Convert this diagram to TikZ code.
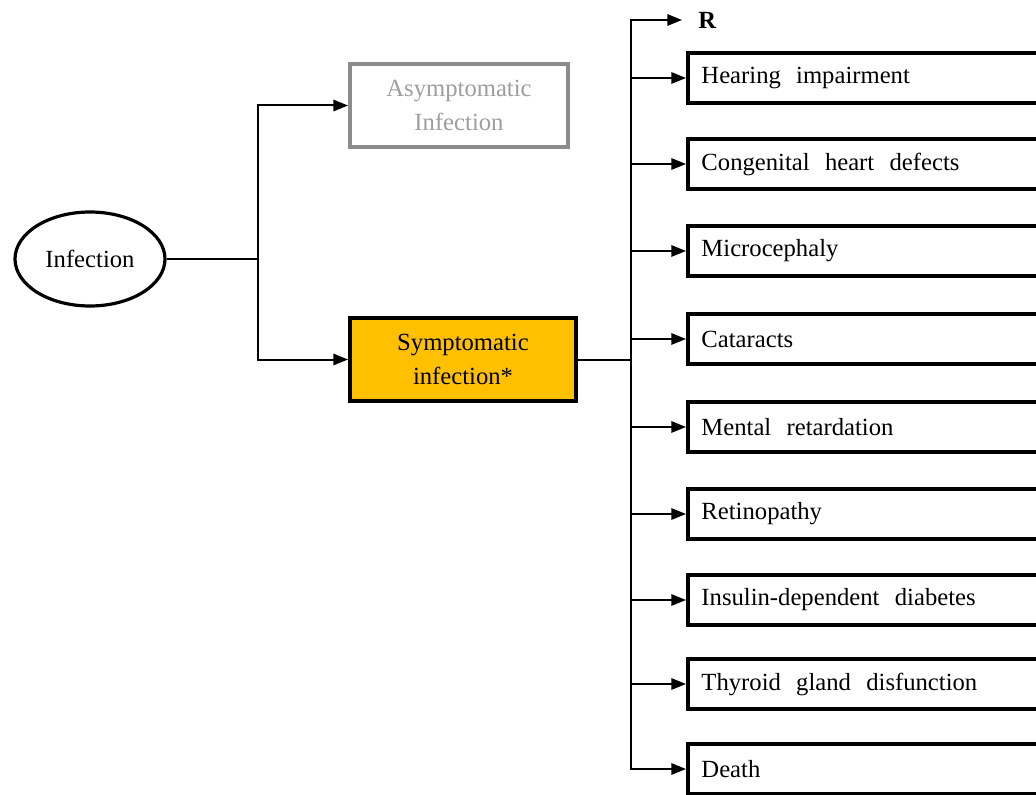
\documentclass[tikz,border=0pt]{standalone}
\usepackage{fontspec}
\setmainfont{Liberation Serif}
\usetikzlibrary{arrows.meta,shapes.geometric}
\definecolor{symfill}{HTML}{FFC000}
\definecolor{asymline}{gray}{0.55}
\definecolor{asymtext}{gray}{0.62}
% label font with wide interword spaces
\newcommand{\labelfont}{\fontsize{18.5pt}{25.5pt}\selectfont\fontdimen2\font=0.62em\relax}
\begin{document}
\begin{tikzpicture}[x=0.75pt,y=-0.75pt,
  every node/.style={font=\labelfont},
  link/.style={line width=1.5pt},
  arrowlink/.style={link,-{Triangle[length=11pt,width=8.5pt]}},
  stage/.style={rectangle,line width=3pt,align=center,inner sep=0pt},
  outcome/.style={rectangle,draw,line width=3.2pt,anchor=west,
    minimum height=37.5pt,text width=300pt,inner xsep=10pt,inner ysep=0pt,align=flush left}]
\useasboundingbox (0,0) rectangle (1036,795);
\clip (0,0) rectangle (1036,795);
\fill[white] (0,0) rectangle (1036,795);

% first split: infection and its two courses
\node[ellipse,draw,line width=2.4pt,minimum width=112.5pt,minimum height=70.5pt,inner sep=0pt]
  (inf) at (90,259) {Infection};
\node[stage,draw=asymline,text=asymtext,minimum width=163.5pt,minimum height=62.25pt]
  (asym) at (459,105.5) {Asymptomatic\\Infection};
\node[stage,draw=black,fill=symfill,minimum width=169.5pt,minimum height=62.25pt]
  (sym) at (463,359.5) {Symptomatic\\infection*};

\coordinate (split) at (258,259);
\draw[link] (inf.east) -- (split);
\draw[arrowlink] (split) |- (asym.west);
\draw[arrowlink] (split) |- (sym.west);

% outcomes of symptomatic infection
\node[anchor=west,inner xsep=12pt,inner ysep=0pt,font=\labelfont\bfseries]
  (r) at (682,20) {R};
\node[outcome] (o1) at (686,78) {Hearing impairment};
\node[outcome] (o2) at (686,164) {Congenital heart defects};
\node[outcome] (o3) at (686,251) {Microcephaly};
\node[outcome] (o4) at (686,339) {Cataracts};
\node[outcome] (o5) at (686,427) {Mental retardation};
\node[outcome] (o6) at (686,514) {Retinopathy};
\node[outcome] (o7) at (686,600) {Insulin-dependent diabetes};
\node[outcome] (o8) at (686,684) {Thyroid gland disfunction};
\node[outcome] (o9) at (686,769) {Death};

\coordinate (trunk) at (631,359.5);
\draw[link] (sym.east) -- (trunk);
\foreach \t in {r,o1,o2,o3,o4,o5,o6,o7,o8,o9}
  \draw[arrowlink] (trunk) |- (\t.west);
\end{tikzpicture}
\end{document}
